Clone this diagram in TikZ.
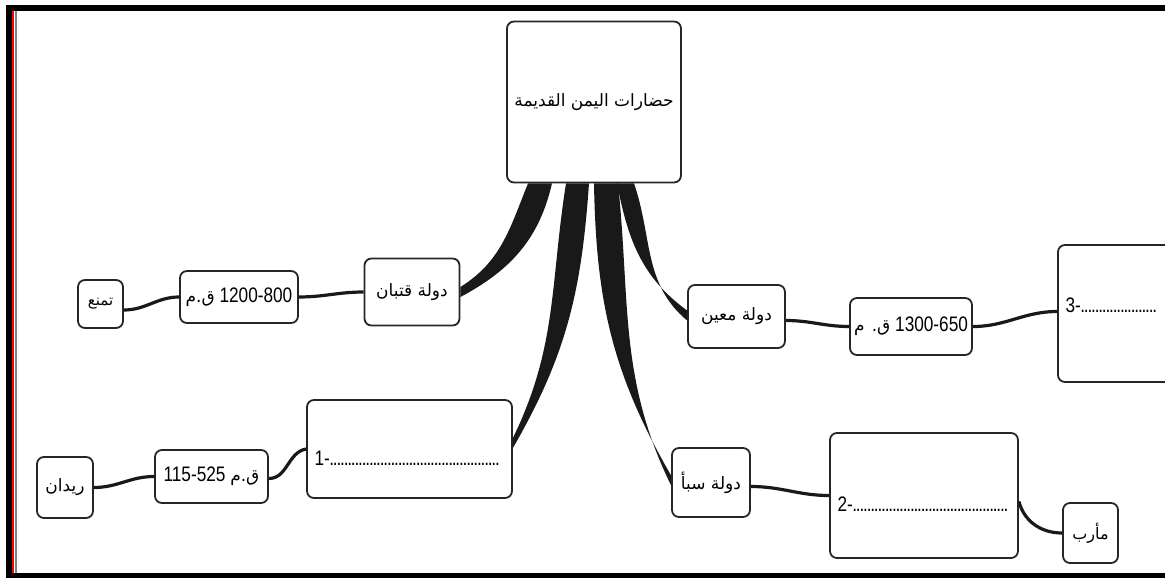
\documentclass[tikz,border=0pt]{standalone}
\usepackage{fontspec}
\setmainfont{Liberation Sans}
\newfontfamily\numfont[FakeStretch=0.82]{Liberation Sans}
\newfontfamily\arabicfont[Script=Arabic]{DejaVu Sans}
\TeXXeTstate=1
\usetikzlibrary{positioning}
\newcommand{\artxt}[1]{{\arabicfont\beginR #1\endR}}
\newcommand{\dotrow}[1]{\hbox to #1{\leaders\hbox to 3.6pt{\hss.\hss}\hfill}}
\begin{document}
\begin{tikzpicture}[x=1pt,y=1pt,
	box/.style={draw=black!85,line width=1.8pt,rounded corners=7pt,fill=white,inner sep=2pt,font=\fontsize{17}{19}\selectfont},
	datebox/.style={box,font=\numfont\fontsize{21}{23}\selectfont},
	placebox/.style={box,font=\fontsize{15}{17}\selectfont},
	link/.style={draw=black!90,line width=3.2pt},
	spoke/.style={fill=black!90}]
	\clip (0,0) rectangle (1165,-578);
	% frame
	\draw[line width=6pt] (1170,-8) -- (9,-8) -- (9,-576) -- (1170,-576);
	\draw[red,line width=1.5pt] (13,-11) -- (13,-573);
	\draw[gray,line width=1.5pt] (16,-11) -- (16,-573);
	% centre
	\node[box,minimum width=174pt,minimum height=161pt,font=\fontsize{17}{19}\selectfont] (hub) at (594,-102) {\artxt{حضارات اليمن القديمة}};
	% left side
	\node[box,minimum width=95pt,minimum height=67pt] (qataban) at (412,-292) {\artxt{دولة قتبان}};
	\node[datebox,minimum width=118pt,minimum height=52pt] (qtbdate) at (239,-297) {{\fontsize{17}{19}\artxt{ق.م}} 1200-800};
	\node[placebox,minimum width=45pt,minimum height=48pt] (tamna) at (100.5,-304) {\artxt{تمنع}};
	\node[box,minimum width=205pt,minimum height=98pt] (kingdomA) at (409.5,-449) {};
	\node[anchor=west,font=\numfont\fontsize{21}{23}\selectfont] (textA) at ([shift={(5pt,-9pt)}]kingdomA.west) {1-\dotrow{172pt}};
	\node[datebox,minimum width=113pt,minimum height=53pt] (hmydate) at (211.5,-476.5) {115-525 {\fontsize{17}{19}\artxt{ق.م}}};
	\node[placebox,minimum width=56pt,minimum height=61pt,font=\fontsize{17}{19}\selectfont] (raydan) at (65,-487.5) {\artxt{ريدان}};
	% right side
	\node[box,minimum width=97pt,minimum height=63pt] (maeen) at (736.5,-316.5) {\artxt{دولة معين}};
	\node[datebox,minimum width=122pt,minimum height=57pt] (mndate) at (911,-326.5) {{\fontsize{17}{19}\artxt{ق. م}} 1300-650};
	\node[box,minimum width=142pt,minimum height=137pt] (kingdomC) at (1129,-313.5) {};
	\node[anchor=west,font=\numfont\fontsize{21}{23}\selectfont] (textC) at ([shift={(5pt,8pt)}]kingdomC.west) {3-\dotrow{78pt}};
	\node[box,minimum width=78pt,minimum height=69pt] (saba) at (711,-482.5) {\artxt{دولة سبأ}};
	\node[box,minimum width=188pt,minimum height=125pt] (kingdomB) at (924,-495.5) {};
	\node[anchor=west,font=\numfont\fontsize{21}{23}\selectfont] (textB) at ([shift={(5pt,-9pt)}]kingdomB.west) {2-\dotrow{157pt}};
	\node[placebox,minimum width=55pt,minimum height=60pt,font=\fontsize{16}{18}\selectfont] (marib) at (1090.5,-533) {\artxt{مأرب}};
	% thick branches
	\fill[spoke] ([xshift=-66pt]hub.south) to[out=-112,in=32] ([yshift=5pt]qataban.east) -- ([yshift=-5pt]qataban.east) to[out=28,in=-103] ([xshift=-42pt]hub.south) -- cycle;
	\fill[spoke] ([xshift=-28pt]hub.south) to[out=-99,in=64] ([yshift=11pt]kingdomA.east) -- ([yshift=1pt]kingdomA.east) to[out=60,in=-94] ([xshift=-5pt]hub.south) -- cycle;
	\fill[spoke] ([xshift=0pt]hub.south) to[out=-89,in=120] ([yshift=7pt]saba.west) -- ([yshift=-3pt]saba.west) to[out=116,in=-84] ([xshift=24pt]hub.south) -- cycle;
	\fill[spoke] ([xshift=23pt]hub.south) to[out=-79,in=144] ([yshift=6pt]maeen.west) -- ([yshift=-4pt]maeen.west) to[out=140,in=-71] ([xshift=40pt]hub.south) -- cycle;
	% thin links
	\draw[link] ([yshift=-6pt]tamna.east) to[out=0,in=180] (qtbdate.west);
	\draw[link] (qtbdate.east) to[out=0,in=180] (qataban.west);
	\draw[link] (raydan.east) to[out=0,in=180] (hmydate.west);
	\draw[link] ([yshift=-2pt]hmydate.east) to[out=0,in=190] (kingdomA.west);
	\draw[link] ([yshift=-4pt]maeen.east) to[out=0,in=180] (mndate.west);
	\draw[link] (mndate.east) to[out=0,in=180] ([yshift=2pt]kingdomC.west);
	\draw[link] ([yshift=-4pt]saba.east) to[out=0,in=180] (kingdomB.west);
	\draw[link] ([yshift=-6pt]kingdomB.east) to[out=-75,in=180] (marib.west);
\end{tikzpicture}
\end{document}
